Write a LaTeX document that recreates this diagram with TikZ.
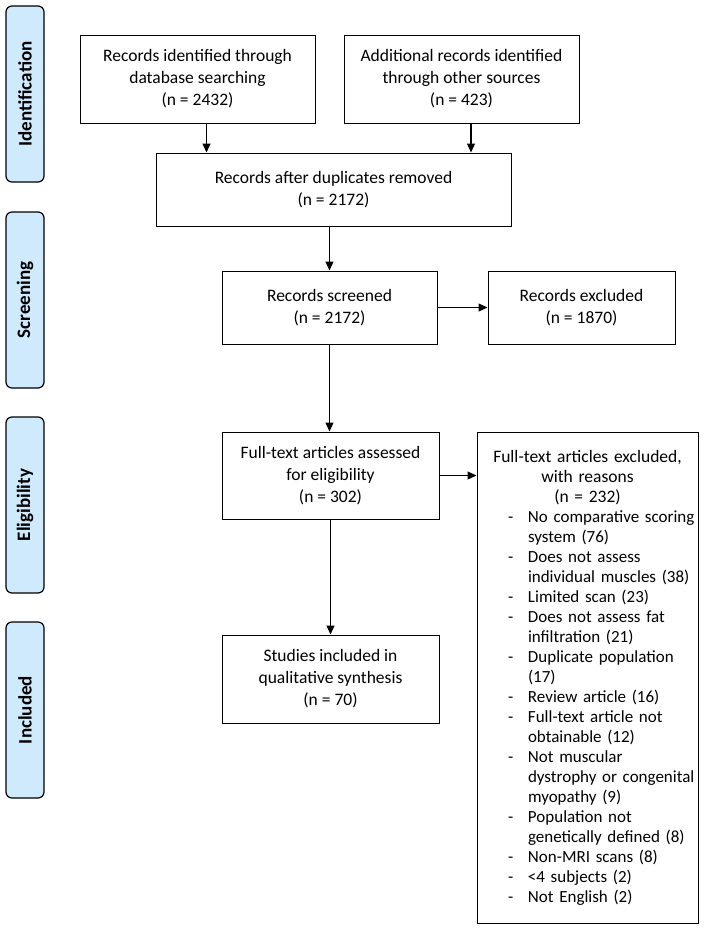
\documentclass[tikz,border=0pt]{standalone}
\usepackage{fontspec}
\setmainfont{Carlito}
\usetikzlibrary{arrows.meta}
\definecolor{phase}{RGB}{207,234,252}
\setlength{\parindent}{0pt}
\newcommand{\rsn}[1]{\hspace*{31pt}\makebox[20pt][l]{-}#1\par}
\newcommand{\rcont}[1]{\hspace*{51pt}#1\par}

\begin{document}
\begin{tikzpicture}[x=1pt,y=-1pt,
  box/.style={draw,line width=1pt,inner sep=0pt,align=center,font=\fontsize{17.5}{22}\selectfont},
  tallbox/.style={box,minimum height=88pt,execute at begin node={\rule{0pt}{19pt}}},
  phasebar/.style={draw,line width=1.2pt,fill=phase,rounded corners=6pt,rotate=90,minimum width=176pt,minimum height=38pt,inner sep=0pt,font=\bfseries\fontsize{19}{22}\selectfont},
  >={Triangle[length=9pt,width=8pt]}]
\useasboundingbox (0,0) rectangle (704,930);
\node[phasebar] (ident) at (25,94) {Identification};
\node[phasebar] (scr) at (25,300) {Screening};
\node[phasebar] (elg) at (25,505) {Eligibility};
\node[phasebar] (inc) at (25,710) {Included};

\node[tallbox,minimum width=235pt] (db) at (197.5,79) {Records identified through\\database searching\\(n = 2432)};
\node[tallbox,minimum width=235pt] (other) at (461.5,79) {Additional records identified\\through other sources\\(n = 423)};
\node[box,minimum width=355pt,minimum height=73pt] (dup) at (333.5,189.5) {Records after duplicates removed\\(n = 2172)};
\node[box,minimum width=215pt,minimum height=73pt] (screen) at (329.5,307.5) {Records screened\\(n = 2172)};
\node[box,minimum width=187pt,minimum height=73pt] (scrx) at (581.5,307.5) {Records excluded\\(n = 1870)};
\node[tallbox,minimum width=217pt,minimum height=87pt] (elig) at (330.5,475.5) {Full-text articles assessed\\for eligibility\\(n = 302)};
\node[tallbox,minimum width=217pt] (incl) at (330.5,679) {Studies included in\\qualitative synthesis\\(n = 70)};
\node[draw,line width=1pt,inner sep=0pt,text width=221pt,minimum height=491pt,align=left,font=\fontsize{17}{20}\selectfont] (fullx) at (587.5,677.5) {%
{\centering\fontsize{17.5}{20}\selectfont Full-text articles excluded,\\with reasons\\(n = 232)\par}
\rsn{No comparative scoring}
\rcont{system (76)}
\rsn{Does not assess}
\rcont{individual muscles (38)}
\rsn{Limited scan (23)}
\rsn{Does not assess fat}
\rcont{infiltration (21)}
\rsn{Duplicate population}
\rcont{(17)}
\rsn{Review article (16)}
\rsn{Full-text article not}
\rcont{obtainable (12)}
\rsn{Not muscular}
\rcont{dystrophy or congenital}
\rcont{myopathy (9)}
\rsn{Population not}
\rcont{genetically defined (8)}
\rsn{Non-MRI scans (8)}
\rsn{<4 subjects (2)}
\rsn{Not English (2)}};

\draw[line width=1.2pt,->] ([xshift=9pt]db.south) -- ([xshift=9pt]db.south |- dup.north);
\draw[line width=1.2pt,->] ([xshift=9.5pt]other.south) -- ([xshift=9.5pt]other.south |- dup.north);
\draw[line width=1.2pt,->] (screen.north |- dup.south) -- (screen.north);
\draw[line width=1.2pt,->] (screen.east) -- (scrx.west);
\draw[line width=1.2pt,->] (screen.south) -- (screen.south |- elig.north);
\draw[line width=1.2pt,->] (elig.east) -- (elig.east -| fullx.west);
\draw[line width=1.2pt,->] (elig.south) -- (incl.north);
\end{tikzpicture}
\end{document}
